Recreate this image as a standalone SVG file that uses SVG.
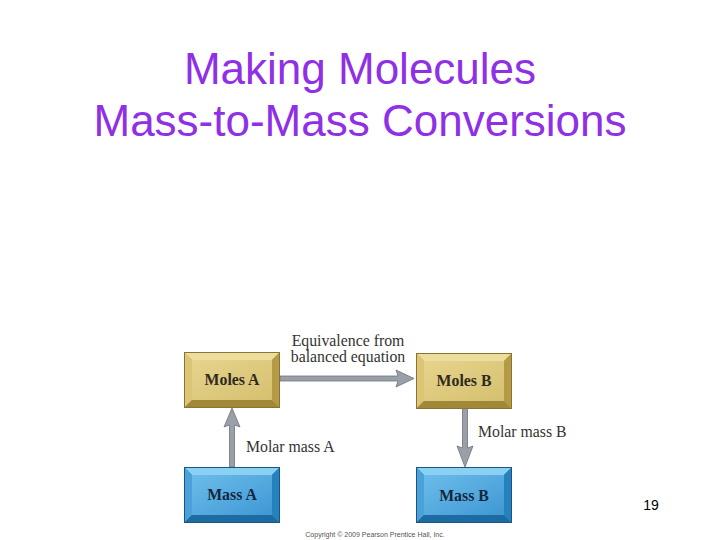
<svg xmlns="http://www.w3.org/2000/svg" width="720" height="540" viewBox="0 0 720 540">
<style>
.title{font-family:"Liberation Sans",Arial,sans-serif;font-size:44px;fill:#9030E6;text-anchor:middle}
.lbl{font-family:"Liberation Serif","Times New Roman",serif;font-size:15.8px;fill:#333}
.box{font-family:"Liberation Serif","Times New Roman",serif;font-size:15.8px;font-weight:bold;text-anchor:middle}
.gold .t{fill:#2e2a20}
.blue .t{fill:#14263e}
.shaft{fill:#9aa0a8;stroke:#6e747c;stroke-width:0.8}
</style>
<defs>
<linearGradient id="gface" x1="0" y1="0" x2="1" y2="1">
<stop offset="0" stop-color="#e6d48c"/><stop offset="1" stop-color="#d6c070"/>
</linearGradient>
<linearGradient id="bface" x1="0" y1="0" x2="1" y2="1">
<stop offset="0" stop-color="#6cbcea"/><stop offset="1" stop-color="#3f98d4"/>
</linearGradient>
<g id="goldbox">
<rect x="0" y="0" width="96" height="56" fill="#b8a048"/>
<polygon points="0,0 96,0 88,8 8,8" fill="#eddd9c"/>
<polygon points="0,0 8,8 8,48 0,56" fill="#dcc676"/>
<polygon points="0,56 8,48 88,48 96,56" fill="#a08838"/>
<polygon points="96,0 96,56 88,48 88,8" fill="#b49a44"/>
<rect x="8" y="8" width="80" height="40" fill="url(#gface)"/>
<rect x="0.5" y="0.5" width="95" height="55" fill="none" stroke="#8a7430" stroke-width="1"/>
</g>
<g id="bluebox">
<rect x="0" y="0" width="96" height="56" fill="#2a80b8"/>
<polygon points="0,0 96,0 88,8 8,8" fill="#8ad0f2"/>
<polygon points="0,0 8,8 8,48 0,56" fill="#4aa2d8"/>
<polygon points="0,56 8,48 88,48 96,56" fill="#1c6ca2"/>
<polygon points="96,0 96,56 88,48 88,8" fill="#2682bc"/>
<rect x="8" y="8" width="80" height="40" fill="url(#bface)"/>
<rect x="0.5" y="0.5" width="95" height="55" fill="none" stroke="#1a5684" stroke-width="1"/>
</g>
</defs>
<rect width="720" height="540" fill="#fff"/>
<text class="title" x="360" y="84">Making Molecules</text>
<text class="title" x="360" y="136">Mass-to-Mass Conversions</text>

<g id="connectors">
<g id="e-molesA-molesB">
<polygon class="shaft" points="280,376 398,376 396,370 414,378.5 396,387 398,381 280,381"/>
</g>
<g id="e-massA-molesA">
<polygon class="shaft" points="229.5,467 229.5,425 224,427 232,408 240,427 234.5,425 234.5,467"/>
</g>
<g id="e-molesB-massB">
<polygon class="shaft" points="462.5,408 462.5,448 457,446 465,467 473,446 467.5,448 467.5,408"/>
</g>
<text class="lbl" x="348" y="346" text-anchor="middle">Equivalence from</text>
<text class="lbl" x="348" y="362" text-anchor="middle">balanced equation</text>
<text class="lbl" x="246" y="452">Molar mass A</text>
<text class="lbl" x="478" y="437">Molar mass B</text>
</g>

<g id="n-molesA" class="gold" transform="translate(184,352)">
<use href="#goldbox"/>
<text class="box t" x="48" y="33">Moles A</text>
</g>
<g id="n-molesB" class="gold" transform="translate(416,353)">
<use href="#goldbox"/>
<text class="box t" x="48" y="33">Moles B</text>
</g>
<g id="n-massA" class="blue" transform="translate(184,467)">
<use href="#bluebox"/>
<text class="box t" x="48" y="33">Mass A</text>
</g>
<g id="n-massB" class="blue" transform="translate(416,467)">
<use href="#bluebox"/>
<text class="box t" x="48" y="34">Mass B</text>
</g>

<text x="375" y="537" font-family="Liberation Sans,Arial,sans-serif" font-size="7" fill="#555" text-anchor="middle">Copyright © 2009 Pearson Prentice Hall, Inc.</text>
<text x="651" y="510" font-family="Liberation Sans,Arial,sans-serif" font-size="14" fill="#000" text-anchor="middle">19</text>
</svg>
